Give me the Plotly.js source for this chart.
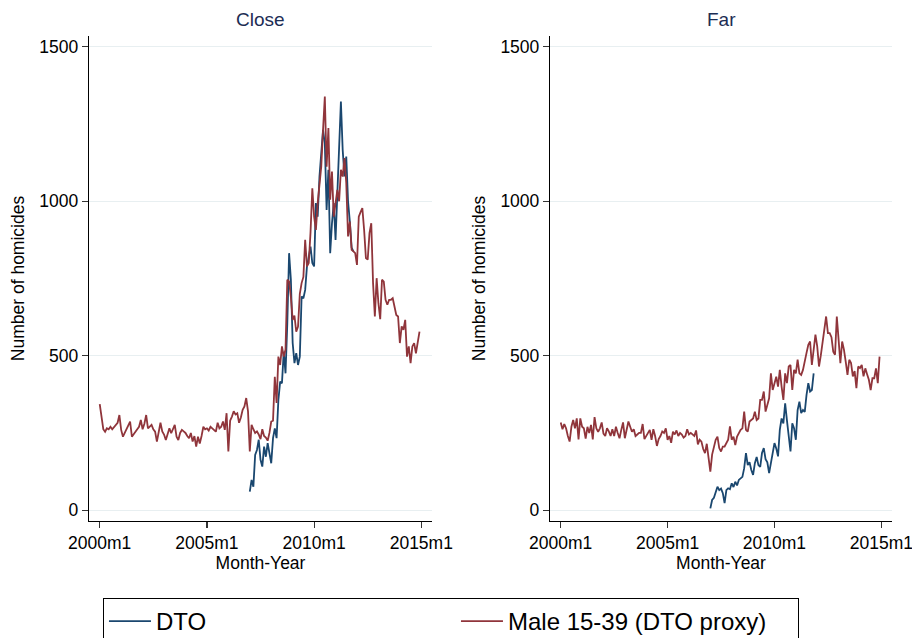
<!DOCTYPE html>
<html>
<head>
<meta charset="utf-8">
<script src="https://cdn.plot.ly/plotly-3.0.1.min.js"></script>
<style>
  html, body { margin: 0; padding: 0; background: #fff; }
  #plot { width: 912px; height: 638px; }
</style>
</head>
<body>
<div id="plot"></div>
<script>
// months are counted from 2000m1 (= 0); DTO series start in 2007m1
const panelTitles = ['Close', 'Far'];
const tickMonths = [0, 60, 120, 180];
const tickLabels = ['2000m1', '2005m1', '2010m1', '2015m1'];
const yTicks = [0, 500, 1000, 1500];
const dtoStart = 84;

const closeMale = [
  343, 300, 262, 254, 265, 262, 270, 262, 268, 275, 283, 308,
  260, 238, 250, 258, 270, 287, 238, 248, 254, 262, 270, 292,
  262, 280, 308, 265, 270, 276, 262, 254, 222, 250, 283, 255,
  245, 227, 250, 265, 249, 260, 276, 238, 227, 250, 260, 255,
  250, 240, 233, 250, 222, 240, 206, 238, 216, 240, 270, 262,
  265, 258, 270, 265, 260, 254, 283, 265, 270, 287, 260, 314,
  190, 290, 303, 320, 310, 314, 283, 300, 325, 336, 363, 320,
  190, 276, 262, 250, 255, 245, 230, 262, 240, 235, 225, 250,
  287, 290, 432, 347, 497, 470, 530, 497, 520, 746, 740, 690,
  616, 630, 578, 594, 700, 735, 755, 875, 789, 800, 900, 1042,
  950, 907, 994, 1050, 1112, 1231, 1339, 1112, 1237, 1005, 1096, 950,
  994, 1037, 1000, 1102, 1080, 1140, 1059, 886, 934, 843, 838, 832,
  794, 950, 965, 978, 907, 816, 811, 897, 929, 735, 627, 751,
  670, 618, 746, 740, 681, 665, 681, 681, 686, 660, 632, 627,
  541, 595, 584, 616, 497, 530, 476, 530, 541, 508, 540, 578
];

const closeDto = [
  60, 98, 76, 179, 195, 228, 163, 141, 206, 173, 217, 184,
  152, 233, 265, 233, 357, 416, 411, 513, 443, 605, 832, 746,
  541, 476, 508, 470, 497, 692, 686, 713, 789, 820, 853, 800,
  789, 994, 950, 1080, 1150, 1231, 1187, 972, 1102, 832, 929, 994,
  875, 1037, 1200, 1323, 1166, 1080, 1145, 1000, 934, 850, 838
];

const farMale = [
  284, 262, 279, 265, 240, 222, 270, 292, 265, 297, 229, 297,
  270, 265, 232, 270, 250, 276, 229, 301, 265, 254, 265, 284,
  248, 240, 265, 255, 240, 262, 240, 270, 250, 233, 260, 284,
  233, 262, 287, 270, 254, 262, 240, 245, 250, 250, 279, 230,
  240, 254, 260, 228, 262, 240, 208, 230, 240, 255, 250, 265,
  228, 240, 218, 254, 245, 258, 240, 250, 245, 235, 240, 262,
  245, 250, 245, 240, 258, 213, 228, 222, 198, 185, 215, 168,
  125, 180, 206, 228, 238, 201, 190, 206, 206, 215, 228, 271,
  228, 238, 211, 238, 250, 260, 265, 319, 260, 254, 287, 292,
  297, 319, 292, 297, 357, 357, 384, 319, 341, 362, 443, 389,
  410, 432, 400, 454, 400, 357, 443, 411, 465, 470, 389, 454,
  443, 487, 443, 438, 454, 487, 509, 535, 546, 470, 520, 568,
  530, 465, 500, 541, 580, 627, 573, 573, 560, 513, 503, 627,
  552, 476, 546, 520, 481, 438, 487, 476, 433, 450, 395, 465,
  460, 470, 433, 459, 440, 422, 389, 427, 427, 459, 411, 497
];

const farDto = [
  6, 33, 40, 60, 76, 65, 70, 55, 23, 65, 71, 68,
  87, 75, 92, 80, 98, 103, 108, 136, 185, 146, 155, 130,
  114, 152, 172, 146, 140, 185, 201, 165, 155, 120, 152, 174,
  217, 200, 174, 260, 297, 281, 346, 291, 243, 190, 281, 265,
  228, 324, 351, 314, 324, 318, 373, 411, 384, 389, 443
];

const dtoColor = '#1a476f';
const maleColor = '#90353b';
const font = 'Liberation Sans, Arial, Helvetica, sans-serif';

const months = (arr, start) => arr.map((_, i) => start + i);

function pair(dto, male, xa, ya, showLegend) {
  return [
    {
      x: months(dto, dtoStart), y: dto, xaxis: xa, yaxis: ya,
      type: 'scatter', mode: 'lines', name: 'DTO', legendgroup: 'dto',
      showlegend: showLegend, legendwidth: 295,
      line: { color: dtoColor, width: 1.8 }
    },
    {
      x: months(male, 0), y: male, xaxis: xa, yaxis: ya,
      type: 'scatter', mode: 'lines', name: 'Male 15-39 (DTO proxy)', legendgroup: 'male',
      showlegend: showLegend, legendwidth: 285,
      line: { color: maleColor, width: 1.8 }
    }
  ];
}

const data = [
  ...pair(closeDto, closeMale, 'x', 'y', true),
  ...pair(farDto, farMale, 'x2', 'y2', false)
];

function xAxis(domain, anchor) {
  return {
    domain: domain, anchor: anchor, range: [-6, 186],
    tickvals: tickMonths, ticktext: tickLabels, ticklabeloverflow: 'allow',
    ticks: 'outside', ticklen: 6, tickwidth: 1.2, tickcolor: '#333',
    showline: true, linecolor: '#000', linewidth: 1.2,
    showgrid: false, zeroline: false,
    tickfont: { family: font, size: 17.5, color: '#000' },
    title: { text: 'Month-Year', font: { family: font, size: 17.5, color: '#000' }, standoff: 2 }
  };
}

function yAxis(anchor) {
  return {
    domain: [0.1834, 0.9436], anchor: anchor, range: [-35, 1535],
    tickvals: yTicks,
    ticks: 'outside', ticklen: 6, tickwidth: 1.2, tickcolor: '#333',
    showline: true, linecolor: '#000', linewidth: 1.2,
    showgrid: true, gridcolor: '#e8eff1', gridwidth: 1, zeroline: false,
    tickfont: { family: font, size: 17.5, color: '#000' },
    title: { text: 'Number of homicides', font: { family: font, size: 17.5, color: '#000' }, standoff: 10 }
  };
}

const layout = {
  width: 912, height: 638,
  margin: { l: 0, r: 0, t: 0, b: 0, autoexpand: false },
  paper_bgcolor: '#fff', plot_bgcolor: '#fff',
  font: { family: font, color: '#000' },
  xaxis: xAxis([0.0976, 0.4737], 'y'),
  yaxis: yAxis('x'),
  xaxis2: xAxis([0.6031, 0.9781], 'y2'),
  yaxis2: yAxis('x2'),
  annotations: panelTitles.map((t, i) => ({
    text: t, xref: 'paper', yref: 'paper',
    x: i === 0 ? 0.2857 : 0.7906, y: 0.9687,
    xanchor: 'center', yanchor: 'middle', showarrow: false,
    font: { family: font, size: 19, color: '#1c2d54' }
  })),
  legend: {
    orientation: 'h', x: 0.1129, xanchor: 'left', y: 0.0627, yanchor: 'top',
    bordercolor: '#000', borderwidth: 1, bgcolor: '#fff',
    font: { family: font, size: 24, color: '#000' },
    itemwidth: 42, traceorder: 'normal'
  },
  showlegend: true
};

Plotly.newPlot('plot', data, layout, { displayModeBar: false, staticPlot: true });
</script>
</body>
</html>
